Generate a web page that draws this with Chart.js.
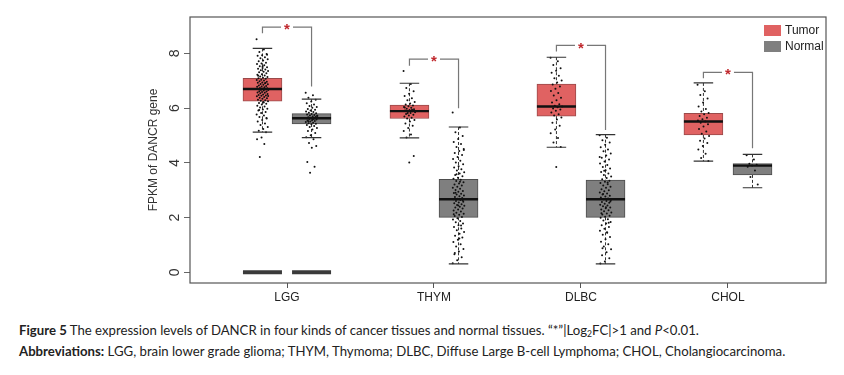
<!DOCTYPE html>
<html><head><meta charset="utf-8">
<script src="https://cdn.jsdelivr.net/npm/chart.js@4/dist/chart.umd.min.js"></script>
<style>
html,body{margin:0;padding:0;background:#fff;}
#wrap{position:relative;width:844px;height:375px;overflow:hidden;}
canvas{position:absolute;left:0;top:0;}
.cap{position:absolute;left:19px;font-family:Lato,"Liberation Sans",Arial,sans-serif;font-size:13px;color:#222;white-space:nowrap;line-height:15px;}
.cap sub{font-size:0.65em;vertical-align:-2px;line-height:0;}
</style></head><body>
<div id="wrap"><canvas id="c" width="844" height="312"></canvas>
<div class="cap" id="cap1" style="top:323px"><b>Figure 5</b> The expression levels of DANCR in four kinds of cancer tissues and normal tissues. “*”|Log<sub>2</sub>FC|&gt;1 and <i>P</i>&lt;0.01.</div>
<div class="cap" id="cap2" style="top:344px"><b>Abbreviations:</b> LGG, brain lower grade glioma; THYM, Thymoma; DLBC, Diffuse Large B-cell Lymphoma; CHOL, Cholangiocarcinoma.</div>
</div>
<script>
// ---------- data ----------
const categories = ['LGG', 'THYM', 'DLBC', 'CHOL'];
const seriesNames = ['Tumor', 'Normal'];
const yTicks = [0, 2, 4, 6, 8];

const tumorMin    = [5.12, 4.91, 4.57, 4.06];
const tumorQ1     = [6.25, 5.62, 5.71, 5.02];
const tumorMedian = [6.70, 5.89, 6.06, 5.51];
const tumorQ3     = [7.09, 6.11, 6.88, 5.81];
const tumorMax    = [8.18, 6.91, 7.86, 6.92];

const normalMin    = [4.92, 0.31, 0.31, 3.09];
const normalQ1     = [5.42, 2.01, 2.01, 3.56];
const normalMedian = [5.63, 2.67, 2.67, 3.90];
const normalQ3     = [5.80, 3.40, 3.37, 3.97];
const normalMax    = [6.33, 5.31, 5.03, 4.31];

// degenerate groups sitting at 0 (LGG only)
const tumorZero  = [0, null, null, null];
const normalZero = [0, null, null, null];

// significance brackets (data units)
const bracketTop      = [8.96, 7.79, 8.29, 7.31];
const bracketLeftEnd  = [8.74, 7.55, 8.07, 7.09];
const bracketRightEnd = [6.79, 6.00, 5.20, 4.53];

// sample points (estimated)
const tumorLGG = [8.52,8.14,8.05,7.98,7.93,7.91,7.86,7.82,7.79,7.74,7.71,7.66,7.63,7.61,7.57,7.53,7.49,7.47,7.44,7.41,7.38,7.36,7.33,7.31,7.27,7.24,7.22,7.19,7.16,7.14,7.11,7.09,7.07,7.04,7.03,7.01,6.98,6.96,6.94,6.93,6.91,6.88,6.87,6.85,6.83,6.81,6.79,6.78,6.76,6.74,6.73,6.71,6.70,6.69,6.67,6.66,6.64,6.62,6.61,6.59,6.57,6.56,6.54,6.52,6.50,6.48,6.46,6.45,6.43,6.41,6.38,6.36,6.34,6.31,6.29,6.27,6.25,6.22,6.19,6.16,6.13,6.09,6.06,6.02,5.98,5.95,5.91,5.86,5.82,5.77,5.73,5.68,5.62,5.57,5.51,5.44,5.38,5.31,5.24,5.17,5.12,4.93,4.86,4.69,4.21,7.95,7.52,7.18,6.92,6.68,6.44,6.21,5.93,5.64];
const normalLGG = [6.56,6.47,6.38,6.31,6.24,6.18,6.13,6.08,6.04,6.01,5.97,5.94,5.91,5.88,5.86,5.83,5.81,5.79,5.77,5.75,5.73,5.71,5.69,5.67,5.66,5.64,5.63,5.61,5.60,5.58,5.56,5.55,5.53,5.51,5.49,5.47,5.45,5.43,5.41,5.38,5.35,5.31,5.27,5.22,5.16,5.09,5.01,4.94,4.86,4.73,4.62,4.55,4.03,3.86,3.64,5.72,5.59,5.52,5.68];
const tumorTHYM = [7.36,6.88,6.74,6.62,6.53,6.44,6.36,6.29,6.22,6.17,6.13,6.10,6.07,6.04,6.01,5.98,5.96,5.93,5.91,5.89,5.87,5.85,5.82,5.79,5.76,5.73,5.69,5.65,5.62,5.57,5.51,5.44,5.36,5.27,5.16,5.04,4.93,4.25,4.01,6.02,5.94,5.81];
const normalTHYM = [5.84,5.29,5.12,4.98,4.87,4.76,4.69,4.58,4.51,4.43,4.36,4.29,4.21,4.14,4.08,4.01,3.95,3.88,3.83,3.77,3.72,3.66,3.61,3.56,3.51,3.46,3.42,3.38,3.34,3.29,3.25,3.21,3.17,3.13,3.09,3.05,3.01,2.97,2.94,2.90,2.87,2.84,2.81,2.78,2.75,2.72,2.69,2.67,2.64,2.61,2.58,2.55,2.52,2.49,2.46,2.43,2.40,2.37,2.33,2.30,2.26,2.22,2.18,2.14,2.10,2.06,2.02,1.98,1.93,1.88,1.83,1.78,1.72,1.66,1.60,1.54,1.47,1.41,1.34,1.27,1.19,1.11,1.03,0.94,0.85,0.76,0.66,0.55,0.44,0.33,3.31,2.91,2.63,2.44,2.12,1.71,3.58,4.47,1.24,0.71];
const tumorDLBC = [7.84,7.71,7.58,7.46,7.37,7.29,7.18,7.09,7.01,6.94,6.86,6.79,6.71,6.63,6.55,6.46,6.38,6.29,6.21,6.14,6.09,6.06,6.03,5.99,5.95,5.90,5.84,5.78,5.73,5.66,5.58,5.47,5.36,5.22,5.08,4.91,4.74,4.58,3.85];
const normalDLBC = [5.01,4.92,4.83,4.74,4.66,4.57,4.49,4.42,4.34,4.27,4.19,4.12,4.05,3.98,3.92,3.85,3.79,3.73,3.67,3.61,3.56,3.50,3.45,3.40,3.35,3.31,3.26,3.22,3.17,3.13,3.09,3.04,3.00,2.96,2.92,2.88,2.84,2.80,2.77,2.73,2.70,2.67,2.64,2.61,2.57,2.54,2.51,2.47,2.44,2.41,2.37,2.34,2.30,2.27,2.23,2.19,2.15,2.11,2.07,2.03,1.99,1.94,1.89,1.84,1.78,1.72,1.66,1.59,1.52,1.45,1.37,1.29,1.21,1.12,1.03,0.94,0.84,0.73,0.62,0.51,0.40,0.32,3.28,2.86,2.59,2.38,2.16,1.81,3.71,4.21,1.46,0.88];
const tumorCHOL = [6.85,6.62,6.48,6.35,6.21,6.06,5.97,5.88,5.82,5.78,5.71,5.65,5.59,5.55,5.51,5.47,5.41,5.33,5.24,5.15,5.06,4.98,4.89,4.81,4.73,4.62,4.49,4.33,4.18,4.07];
const normalCHOL = [4.28,4.12,3.97,3.93,3.90,3.86,3.72,3.48,3.21];

// ---------- styling / geometry ----------
const tumorFill = '#e06262', tumorBorder = '#9a4a4a';
const normalFill = '#7f7f7f', normalBorder = '#4d4d4d';
const groupOffset = 0.167;
const boxPx = 39;
const jitterSpan = 0.08;

// fit caption width to the reference layout
(function fitCaption() {
  const el = document.getElementById('cap2');
  const target = 767;
  const w = el.getBoundingClientRect().width;
  const fs = 13 * target / w;
  document.querySelectorAll('.cap').forEach(c => { c.style.fontSize = fs.toFixed(2) + 'px'; });
})();

const tumorSamples = [tumorLGG, tumorTHYM, tumorDLBC, tumorCHOL];
const normalSamples = [normalLGG, normalTHYM, normalDLBC, normalCHOL];
const jit = i => (((i * 0.6180339887) % 1) - 0.5) * jitterSpan;
function pts(groups, sign) {
  const out = [];
  groups.forEach((g, ci) => g.forEach((v, i) => out.push({x: ci + 1 + sign * groupOffset + jit(i), y: v})));
  return out;
}

const boxStats = [
  {min: tumorMin, q1: tumorQ1, med: tumorMedian, q3: tumorQ3, max: tumorMax, zero: tumorZero, sign: -1},
  {min: normalMin, q1: normalQ1, med: normalMedian, q3: normalQ3, max: normalMax, zero: normalZero, sign: 1}
];

const extras = {
  id: 'extras',
  beforeDatasetsDraw(chart) {
    const {ctx, scales: {x, y}} = chart;
    ctx.save();
    ctx.strokeStyle = '#333'; ctx.lineWidth = 1; ctx.setLineDash([3, 2]);
    boxStats.forEach(s => categories.forEach((c, i) => {
      const px = x.getPixelForValue(i + 1 + s.sign * groupOffset);
      ctx.beginPath();
      ctx.moveTo(px, y.getPixelForValue(s.max[i])); ctx.lineTo(px, y.getPixelForValue(s.q3[i]));
      ctx.moveTo(px, y.getPixelForValue(s.q1[i])); ctx.lineTo(px, y.getPixelForValue(s.min[i]));
      ctx.stroke();
    }));
    ctx.restore();
  },
  afterDatasetsDraw(chart) {
    const {ctx, chartArea: a, scales: {x, y}} = chart;
    ctx.save();
    boxStats.forEach(s => categories.forEach((c, i) => {
      const px = x.getPixelForValue(i + 1 + s.sign * groupOffset);
      ctx.strokeStyle = '#333'; ctx.lineWidth = 1.2;
      ctx.beginPath();
      [s.min[i], s.max[i]].forEach(v => { const py = y.getPixelForValue(v); ctx.moveTo(px - boxPx / 4, py); ctx.lineTo(px + boxPx / 4, py); });
      ctx.stroke();
      ctx.strokeStyle = '#111'; ctx.lineWidth = 2.4;
      ctx.beginPath();
      const pm = y.getPixelForValue(s.med[i]);
      ctx.moveTo(px - boxPx / 2, pm); ctx.lineTo(px + boxPx / 2, pm);
      ctx.stroke();
      if (s.zero[i] !== null) {
        ctx.strokeStyle = '#3a3a3a'; ctx.lineWidth = 4;
        ctx.beginPath();
        const pz = y.getPixelForValue(s.zero[i]);
        ctx.moveTo(px - boxPx / 2, pz); ctx.lineTo(px + boxPx / 2, pz);
        ctx.stroke();
      }
    }));
    categories.forEach((c, i) => {
      const xl = x.getPixelForValue(i + 1 - groupOffset), xr = x.getPixelForValue(i + 1 + groupOffset);
      const yt = y.getPixelForValue(bracketTop[i]);
      ctx.strokeStyle = '#777'; ctx.lineWidth = 1.2;
      ctx.beginPath();
      ctx.moveTo(xl, y.getPixelForValue(bracketLeftEnd[i])); ctx.lineTo(xl, yt);
      ctx.lineTo(xr, yt); ctx.lineTo(xr, y.getPixelForValue(bracketRightEnd[i]));
      ctx.stroke();
      const xm = (xl + xr) / 2;
      ctx.fillStyle = '#fff'; ctx.fillRect(xm - 6, yt - 3, 12, 6);
      ctx.fillStyle = '#c0282d'; ctx.font = 'bold 15px Arial'; ctx.textAlign = 'center'; ctx.textBaseline = 'middle';
      ctx.fillText('*', xm, yt + 3);
    });
    ctx.strokeStyle = '#555'; ctx.lineWidth = 1.2;
    ctx.strokeRect(a.left, a.top, a.right - a.left, a.bottom - a.top);
    ctx.fillStyle = '#333'; ctx.font = '14px Arial'; ctx.textAlign = 'center'; ctx.textBaseline = 'middle';
    yTicks.forEach(v => {
      ctx.save(); ctx.translate(a.left - 15, y.getPixelForValue(v)); ctx.rotate(-Math.PI / 2);
      ctx.fillText(String(v), 0, 0); ctx.restore();
    });
    const fills = [tumorFill, normalFill];
    ctx.font = '12px Arial'; ctx.textAlign = 'left'; ctx.textBaseline = 'middle';
    seriesNames.forEach((n, k) => {
      const top = a.top + 8 + k * 16;
      ctx.fillStyle = fills[k]; ctx.fillRect(a.right - 62, top, 17, 11);
      ctx.fillStyle = '#222'; ctx.fillText(n, a.right - 41, top + 5.5);
    });
    ctx.restore();
  }
};

new Chart(document.getElementById('c'), {
  type: 'bar',
  data: {
    datasets: [
      {type: 'bar', label: seriesNames[0], data: categories.map((c, i) => ({x: i + 1 - groupOffset, y: [tumorQ1[i], tumorQ3[i]]})),
       backgroundColor: tumorFill, borderColor: tumorBorder, borderWidth: 1, borderSkipped: false, barThickness: boxPx, grouped: false, order: 3},
      {type: 'bar', label: seriesNames[1], data: categories.map((c, i) => ({x: i + 1 + groupOffset, y: [normalQ1[i], normalQ3[i]]})),
       backgroundColor: normalFill, borderColor: normalBorder, borderWidth: 1, borderSkipped: false, barThickness: boxPx, grouped: false, order: 3},
      {type: 'scatter', label: 'Tumor samples', data: pts(tumorSamples, -1), pointRadius: 1.0, pointBackgroundColor: '#111', pointBorderWidth: 0, order: 1},
      {type: 'scatter', label: 'Normal samples', data: pts(normalSamples, 1), pointRadius: 1.0, pointBackgroundColor: '#111', pointBorderWidth: 0, order: 1}
    ]
  },
  options: {
    responsive: false, animation: false, devicePixelRatio: 1,
    layout: {padding: {top: 17, right: 18, left: 0, bottom: 0}},
    plugins: {legend: {display: false}, tooltip: {enabled: false}},
    scales: {
      x: {
        type: 'linear', min: 0.34, max: 4.667, offset: false,
        afterBuildTicks: s => { s.ticks = categories.map((c, i) => ({value: i + 1})); },
        afterFit: s => { s.height = 29; },
        ticks: {callback: v => categories[v - 1], color: '#222', font: {size: 12, family: 'Arial'}, padding: 2, maxRotation: 0, autoSkip: false},
        grid: {offset: false, drawOnChartArea: false, drawTicks: true, tickLength: 5, color: '#555'},
        border: {display: false}
      },
      y: {
        type: 'linear', min: -0.39, max: 9.33,
        afterBuildTicks: s => { s.ticks = yTicks.map(v => ({value: v})); },
        afterFit: s => { s.width = 190; },
        ticks: {color: 'rgba(0,0,0,0)', font: {size: 14}},
        grid: {drawOnChartArea: false, drawTicks: true, tickLength: 6, color: '#666'},
        border: {display: false},
        title: {display: true, text: 'FPKM of DANCR gene', color: '#333', font: {size: 12, family: 'Arial'}, padding: {top: 146, bottom: 0}}
      }
    }
  },
  plugins: [extras]
});
</script>
</body></html>
